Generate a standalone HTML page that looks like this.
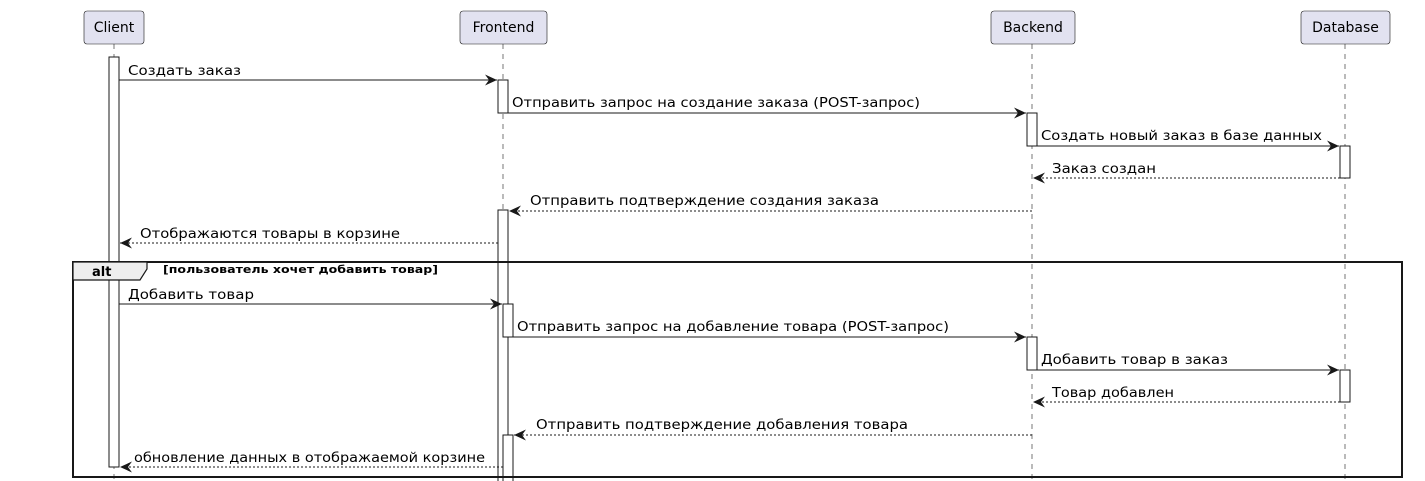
<!DOCTYPE html>
<html><head><meta charset="utf-8"><style>body{margin:0;background:#fff}svg{display:block}</style></head>
<body>
<svg width="1425" height="481" xmlns="http://www.w3.org/2000/svg" font-family="DejaVu Sans, sans-serif">
<defs>
<marker id="a" markerWidth="13" markerHeight="11" refX="12" refY="5.5" orient="auto" markerUnits="userSpaceOnUse"><path d="M0,0 L12,5.5 L0,11 L4,5.5 Z" fill="#181818"/></marker>
</defs>
<g stroke="#555" stroke-width="0.8" stroke-dasharray="5,5">
<line x1="114" y1="44" x2="114" y2="481"/>
<line x1="503" y1="44" x2="503" y2="481"/>
<line x1="1032" y1="44" x2="1032" y2="481"/>
<line x1="1345" y1="44" x2="1345" y2="481"/>
</g>
<g fill="#e2e2f0" stroke="#181818" stroke-width="0.6">
<rect x="84" y="11" width="60" height="33" rx="3"/>
<rect x="460" y="11" width="87" height="33" rx="3"/>
<rect x="991" y="11" width="84" height="33" rx="3"/>
<rect x="1301" y="11" width="89" height="33" rx="3"/>
</g>
<g font-size="14" fill="#000" text-anchor="middle">
<text x="114" y="32">Client</text>
<text x="503.5" y="32">Frontend</text>
<text x="1033" y="32">Backend</text>
<text x="1345.5" y="32">Database</text>
</g>
<g fill="#fff" stroke="#181818" stroke-width="1">
<rect x="109" y="57" width="10" height="410"/>
<rect x="498" y="80" width="10" height="33"/>
<rect x="498" y="210" width="10" height="275"/>
<rect x="503" y="304" width="10" height="33"/>
<rect x="503" y="435" width="10" height="50"/>
<rect x="1027" y="113" width="10" height="33"/>
<rect x="1027" y="337" width="10" height="33"/>
<rect x="1340" y="146" width="10" height="32"/>
<rect x="1340" y="370" width="10" height="32"/>
</g>
<g stroke="#181818" stroke-width="1" fill="none" marker-end="url(#a)">
<line x1="119" y1="80" x2="497" y2="80"/>
<line x1="508" y1="113" x2="1026" y2="113"/>
<line x1="1037" y1="146" x2="1339" y2="146"/>
<line x1="1340" y1="178" x2="1033" y2="178" stroke-dasharray="2,2"/>
<line x1="1032" y1="211" x2="509" y2="211" stroke-dasharray="2,2"/>
<line x1="498" y1="243" x2="120" y2="243" stroke-dasharray="2,2"/>
<line x1="119" y1="304" x2="502" y2="304"/>
<line x1="513" y1="337" x2="1026" y2="337"/>
<line x1="1037" y1="370" x2="1339" y2="370"/>
<line x1="1340" y1="402" x2="1033" y2="402" stroke-dasharray="2,2"/>
<line x1="1032" y1="435" x2="514" y2="435" stroke-dasharray="2,2"/>
<line x1="503" y1="467" x2="120" y2="467" stroke-dasharray="2,2"/>
</g>
<rect x="73" y="262" width="1329" height="215" fill="none" stroke="#181818" stroke-width="2"/>
<path d="M73,262 L147,262 L147,269 L140,280 L73,280 Z" fill="#eeeeee" stroke="#181818" stroke-width="1.2"/>
<text x="92" y="276" font-size="13" font-weight="bold">alt</text>
<text x="163" y="273" font-size="11" font-weight="bold" textLength="275" lengthAdjust="spacingAndGlyphs">[пользователь хочет добавить товар]</text>
<g font-size="13" fill="#000">
<text x="128" y="75" textLength="113" lengthAdjust="spacingAndGlyphs">Создать заказ</text>
<text x="512" y="107" textLength="408" lengthAdjust="spacingAndGlyphs">Отправить запрос на создание заказа (POST-запрос)</text>
<text x="1041" y="140" textLength="281" lengthAdjust="spacingAndGlyphs">Создать новый заказ в базе данных</text>
<text x="1052" y="173" textLength="104" lengthAdjust="spacingAndGlyphs">Заказ создан</text>
<text x="530" y="205" textLength="349" lengthAdjust="spacingAndGlyphs">Отправить подтверждение создания заказа</text>
<text x="140" y="238" textLength="260" lengthAdjust="spacingAndGlyphs">Отображаются товары в корзине</text>
<text x="128" y="299" textLength="126" lengthAdjust="spacingAndGlyphs">Добавить товар</text>
<text x="517" y="331" textLength="432" lengthAdjust="spacingAndGlyphs">Отправить запрос на добавление товара (POST-запрос)</text>
<text x="1041" y="364" textLength="187" lengthAdjust="spacingAndGlyphs">Добавить товар в заказ</text>
<text x="1052" y="397" textLength="122" lengthAdjust="spacingAndGlyphs">Товар добавлен</text>
<text x="536" y="429" textLength="372" lengthAdjust="spacingAndGlyphs">Отправить подтверждение добавления товара</text>
<text x="134" y="462" textLength="351" lengthAdjust="spacingAndGlyphs">обновление данных в отображаемой корзине</text>
</g>
</svg>
</body></html>
